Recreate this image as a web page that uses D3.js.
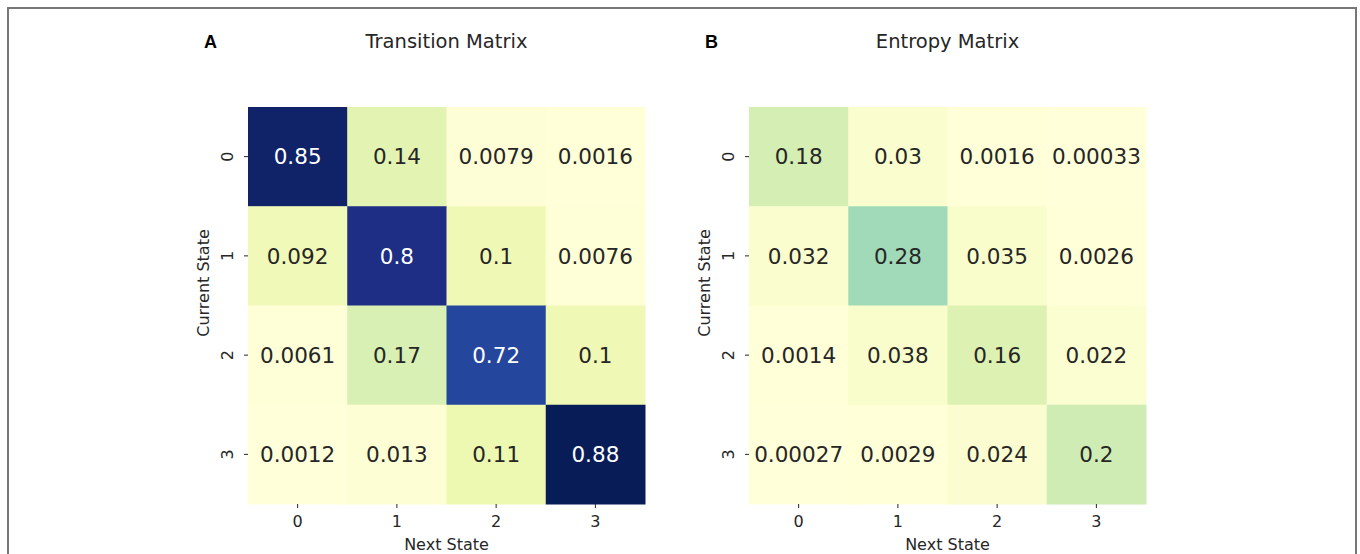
<!DOCTYPE html>
<html>
<head>
<meta charset="utf-8">
<script src="https://cdn.jsdelivr.net/npm/d3@7"></script>
<style>
	body { margin: 0; background: #fff; }
	svg { display: block; }
	text { font-family: "DejaVu Sans", sans-serif; fill: #262626; }
</style>
</head>
<body>
<svg id="chart" width="1360" height="554"></svg>
<script>
'use strict';

var states = [0, 1, 2, 3];

var transitionValues = [
	[0.85, 0.14, 0.0079, 0.0016],
	[0.092, 0.8, 0.1, 0.0076],
	[0.0061, 0.17, 0.72, 0.1],
	[0.0012, 0.013, 0.11, 0.88]
];

var entropyValues = [
	[0.18, 0.03, 0.0016, 0.00033],
	[0.032, 0.28, 0.035, 0.0026],
	[0.0014, 0.038, 0.16, 0.022],
	[0.00027, 0.0029, 0.024, 0.2]
];

var panels = [
	{ letter: "A", title: "Transition Matrix", values: transitionValues, left: 248 },
	{ letter: "B", title: "Entropy Matrix", values: entropyValues, left: 749 }
];

var CELL_TOP = 107;
var GRID_SIZE = 397;

var svg = d3.select("#chart");

// frame round the figure (bottom edge is cut off)
svg.append("path")
	.attr("d", "M8,560 L8,8 L1356,8 L1356,560")
	.attr("fill", "none")
	.attr("stroke", "#777")
	.attr("stroke-width", 2);

// both matrices share the same colour range
var colorScale = d3.scaleSequential()
	.domain([0, 0.88])
	.interpolator(d3.piecewise(d3.interpolateRgb, d3.schemeYlGnBu[9]));

var fmt = d3.format(".2~g");

function textColor(v) {
	var c = d3.rgb(colorScale(v));
	var lum = [c.r, c.g, c.b].map(function (ch) {
		ch = ch / 255;
		return ch <= 0.03928 ? ch / 12.92 : Math.pow((ch + 0.055) / 1.055, 2.4);
	});
	var l = 0.2126 * lum[0] + 0.7152 * lum[1] + 0.0722 * lum[2];
	return l < 0.408 ? "#fff" : "#262626";
}

panels.forEach(function (p) {

	var x = d3.scaleBand()
		.domain(states)
		.range([p.left, p.left + GRID_SIZE]);

	var y = d3.scaleBand()
		.domain(states)
		.range([CELL_TOP, CELL_TOP + GRID_SIZE]);

	var g = svg.append("g");

	var cells = [];
	p.values.forEach(function (row, i) {
		row.forEach(function (v, j) {
			cells.push({ row: i, col: j, value: v });
		});
	});

	g.selectAll(".cell")
		.data(cells)
		.enter()
		.append("rect")
		.classed("cell", 1)
		.attr("x", function (d) { return x(d.col); })
		.attr("y", function (d) { return y(d.row); })
		.attr("width", x.bandwidth() + 0.5)
		.attr("height", y.bandwidth() + 0.5)
		.style("fill", function (d) { return colorScale(d.value); });

	g.selectAll(".annot")
		.data(cells)
		.enter()
		.append("text")
		.classed("annot", 1)
		.attr("x", function (d) { return x(d.col) + x.bandwidth() / 2; })
		.attr("y", function (d) { return y(d.row) + y.bandwidth() / 2; })
		.attr("dy", "0.36em")
		.attr("text-anchor", "middle")
		.style("font-size", "21.5px")
		.style("fill", function (d) { return textColor(d.value); })
		.text(function (d) { return fmt(d.value); });

	// x axis
	var xAxis = svg.append("g")
		.attr("transform", "translate(0," + (CELL_TOP + GRID_SIZE) + ")")
		.call(d3.axisBottom(x).tickSize(4).tickPadding(8));
	xAxis.select(".domain").remove();
	xAxis.selectAll(".tick line").attr("stroke", "#262626");
	xAxis.selectAll(".tick text")
		.style("font-size", "16px")
		.style("font-family", "DejaVu Sans")
		.attr("fill", "#262626");

	// y axis, labels turned like matplotlib
	var yAxis = svg.append("g")
		.attr("transform", "translate(" + p.left + ",0)")
		.call(d3.axisLeft(y).tickSize(4));
	yAxis.select(".domain").remove();
	yAxis.selectAll(".tick line").attr("stroke", "#262626");
	yAxis.selectAll(".tick text")
		.attr("x", null)
		.attr("y", 0)
		.attr("dy", "0.36em")
		.attr("text-anchor", "middle")
		.attr("transform", "translate(-21,0) rotate(-90)")
		.style("font-size", "16px")
		.style("font-family", "DejaVu Sans")
		.attr("fill", "#262626");

	svg.append("text")
		.attr("x", p.left + GRID_SIZE / 2)
		.attr("y", 550)
		.attr("text-anchor", "middle")
		.style("font-size", "16px")
		.text("Next State");

	svg.append("text")
		.attr("transform", "translate(" + (p.left - 45) + ",283) rotate(-90)")
		.attr("dy", "0.36em")
		.attr("text-anchor", "middle")
		.style("font-size", "16px")
		.text("Current State");

	svg.append("text")
		.attr("x", p.left + GRID_SIZE / 2)
		.attr("y", 48)
		.attr("text-anchor", "middle")
		.style("font-size", "19.5px")
		.text(p.title);

	svg.append("text")
		.attr("x", p.left - 44)
		.attr("y", 48)
		.style("font-family", "'Liberation Sans', Arial, sans-serif")
		.style("font-weight", "bold")
		.style("font-size", "18px")
		.style("fill", "#000")
		.text(p.letter);
});
</script>
</body>
</html>
